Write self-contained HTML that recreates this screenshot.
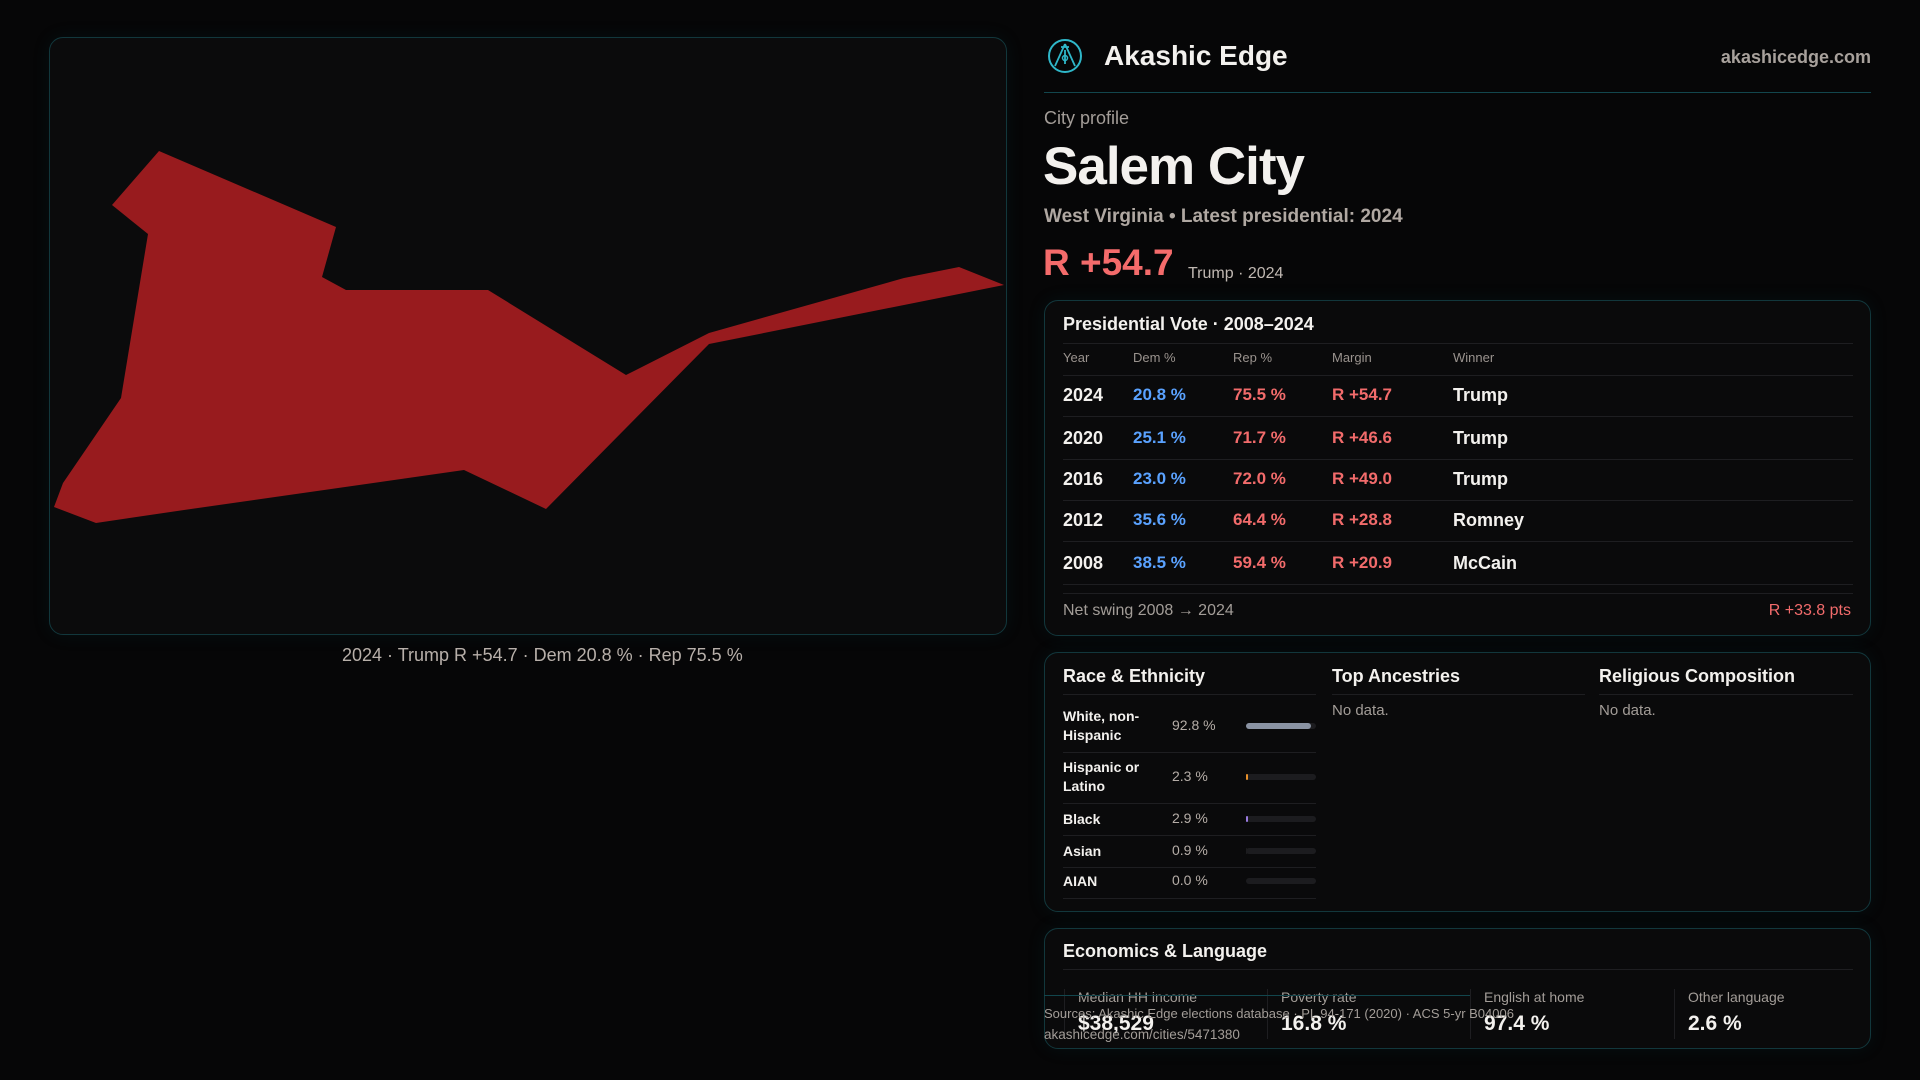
<!DOCTYPE html>
<html><head><meta charset="utf-8"><style>
*{box-sizing:border-box;margin:0;padding:0}
body{width:1920px;height:1080px;background:#060607;color:#f3f1ee;font-family:"Liberation Sans",sans-serif;position:relative;overflow:hidden}
.a{position:absolute;white-space:nowrap}
.panel{position:absolute;border:1px solid #12373c;border-radius:14px;background:#0a0a0b;box-shadow:0 0 18px rgba(20,90,100,0.12)}
.muted{color:#a39d98}
.blue{color:#5aa2ff}.red{color:#f26b6b}
.hr{position:absolute;height:1px;background:#1e1e21}
</style></head><body>
<div class="panel" style="left:49px;top:37px;width:958px;height:598px;background:#0b0b0c"></div>
<svg class="a" style="left:0;top:0" width="1920" height="1080">
<polygon id="shape" fill="#981b1e"/>
</svg>
<div class="a muted" style="left:342px;top:645px;font-size:18px;color:#b8b0aa">2024 · Trump R +54.7 · Dem 20.8 % · Rep 75.5 %</div>

<svg class="a" style="left:1047px;top:38px" width="36" height="36" viewBox="0 0 36 36">
<circle cx="18" cy="18" r="16" fill="none" stroke="#2fb7c9" stroke-width="2"/>
<path d="M18 6 L8 28 M18 6 L28 28 M18 12 V26 M14 9 H22" stroke="#2fb7c9" stroke-width="1.8" fill="none"/>
<circle cx="18" cy="20" r="2.5" fill="none" stroke="#2fb7c9" stroke-width="1.5"/>
</svg>
<div class="a" style="left:1104px;top:40px;font-size:28px;font-weight:bold">Akashic Edge</div>
<div class="a muted" style="right:49px;top:47px;font-size:18px;font-weight:bold;color:#a8a19c">akashicedge.com</div>
<div class="a" style="left:1044px;top:92px;width:827px;height:1px;background:#12464d"></div>
<div class="a muted" style="left:1044px;top:108px;font-size:18px">City profile</div>
<div class="a" style="left:1043px;top:136px;font-size:53px;font-weight:bold;letter-spacing:-1px">Salem City</div>
<div class="a muted" style="left:1044px;top:206px;font-size:19px;font-weight:bold;color:#b0a8a2">West Virginia • Latest presidential: 2024</div>
<div class="a red" style="left:1043px;top:242px;font-size:37px;font-weight:bold;color:#f46b6b">R +54.7</div>
<div class="a muted" style="left:1188px;top:265px;font-size:16px;color:#c0b8b2">Trump · 2024</div>

<div class="panel" style="left:1044px;top:300px;width:827px;height:336px"></div>
<div class="a" style="left:1063px;top:314px;font-size:18px;font-weight:bold">Presidential Vote · 2008–2024</div>
<div class="hr" style="left:1063px;top:343px;width:790px"></div>
<div id="vote"></div>
<div class="hr" style="left:1063px;top:593px;width:790px"></div>
<div class="a muted" style="left:1063px;top:602px;font-size:16px">Net swing 2008 → 2024</div>
<div class="a red" style="right:69px;top:602px;font-size:16px">R +33.8 pts</div>

<div class="panel" style="left:1044px;top:652px;width:827px;height:260px"></div>
<div class="a" style="left:1063px;top:666px;font-size:18px;font-weight:bold">Race &amp; Ethnicity</div>
<div class="hr" style="left:1063px;top:694px;width:253px"></div>
<div class="a" style="left:1332px;top:666px;font-size:18px;font-weight:bold">Top Ancestries</div>
<div class="hr" style="left:1332px;top:694px;width:253px"></div>
<div class="a muted" style="left:1332px;top:702px;font-size:15px">No data.</div>
<div class="a" style="left:1599px;top:666px;font-size:18px;font-weight:bold">Religious Composition</div>
<div class="hr" style="left:1599px;top:694px;width:254px"></div>
<div class="a muted" style="left:1599px;top:702px;font-size:15px">No data.</div>
<div id="race"></div>

<div class="panel" style="left:1044px;top:928px;width:827px;height:121px"></div>
<div class="a" style="left:1063px;top:941px;font-size:18px;font-weight:bold">Economics &amp; Language</div>
<div class="hr" style="left:1063px;top:969px;width:790px"></div>
<div id="econ"></div>
<div class="a" style="left:1044px;top:995px;width:426px;height:1px;background:#12464d"></div>
<div class="a muted" style="left:1044px;top:1006px;font-size:13px">Sources: Akashic Edge elections database · PL 94-171 (2020) · ACS 5-yr B04006</div>
<div class="a muted" style="left:1044px;top:1027px;font-size:13.5px">akashicedge.com/cities/5471380</div>

<script>
const shapeX=[159,336,322,346,488,626,709,904,959,1004,709,546,464,184,96,54,63,121,148,112];
const shapeY=[151,227,277,290,290,375,333,278,267,285,344,509,470,510,523,507,483,398,234,205];
const years=['2024','2020','2016','2012','2008'];
const demPct=[20.8,25.1,23.0,35.6,38.5];
const repPct=[75.5,71.7,72.0,64.4,59.4];
const winners=['Trump','Trump','Trump','Romney','McCain'];
const raceLabels=['White, non-<br>Hispanic','Hispanic or<br>Latino','Black','Asian','AIAN'];
const raceVals=[92.8,2.3,2.9,0.9,0.0];
const raceColors=['#8a93a3','#e8902a','#9a7be0','#1c1c1f','#1c1c1f'];
const econLabels=['Median HH income','Poverty rate','English at home','Other language'];
const econVals=['$38,529','16.8 %','97.4 %','2.6 %'];

document.getElementById('shape').setAttribute('points',shapeX.map((x,i)=>x+','+shapeY[i]).join(' '));

function el(parent,html,style,name){const d=document.createElement('div');d.className='a';d.innerHTML=html;d.style.cssText=style;


parent.appendChild(d);return d;}
const V=document.getElementById('vote');
const hx=[1063,1133,1233,1332,1453],hn=['Year','Dem %','Rep %','Margin','Winner'];
hn.forEach((h,i)=>el(V,h,`left:${hx[i]}px;top:350px;font-size:13px;color:#9a938e`,'column-header'));
const hrline=(p,t,l,w)=>{el(p,'',`left:${l}px;top:${t}px;width:${w}px;height:1px;background:#1e1e21`,'row-divider');};
hrline(V,375,1063,790);
const rowY=[396,439,480,521,564];
years.forEach((y,i)=>{const t=rowY[i]-11;const m=repPct[i]-demPct[i];
el(V,y,`left:1063px;top:${t}px;font-size:18px;font-weight:bold`,'year-cell');
el(V,demPct[i].toFixed(1)+' %',`left:1133px;top:${t}px;font-size:17px;color:#5aa2ff;font-weight:bold`,'dem-cell');
el(V,repPct[i].toFixed(1)+' %',`left:1233px;top:${t}px;font-size:17px;color:#f26b6b;font-weight:bold`,'rep-cell');
el(V,'R +'+m.toFixed(1),`left:1332px;top:${t}px;font-size:17px;color:#f26b6b;font-weight:bold`,'margin-cell');
el(V,winners[i],`left:1453px;top:${t}px;font-size:18px;font-weight:bold`,'winner-cell');
hrline(V,rowY[i]+20,1063,790);});
const R=document.getElementById('race');
const rY=[726,777,819,851,881],sep=[752,803,835,867,898];
raceVals.forEach((v,i)=>{const two=raceLabels[i].includes('<br>');
el(R,raceLabels[i],`left:1063px;top:${rY[i]-(two?19:9)}px;font-size:14px;font-weight:bold;line-height:19px`,'race-label');
el(R,v.toFixed(1)+' %',`left:1172px;top:${rY[i]-9}px;font-size:14px;color:#b5ada7`,'race-value');
el(R,'',`left:1246px;top:${rY[i]-3}px;width:70px;height:6px;border-radius:3px;background:#1c1c1f`,'race-bar-track');
el(R,'',`left:1246px;top:${rY[i]-3}px;width:${v/100*70}px;height:6px;border-radius:3px;background:${raceColors[i]}`,'race-bar');
hrline(R,sep[i],1063,253);});
const E=document.getElementById('econ');
const ex=[1064,1267,1470,1674];
econLabels.forEach((l,i)=>{
el(E,'',`left:${ex[i]}px;top:989px;width:1px;height:50px;background:#1e1e21`,'stat-divider');
el(E,l,`left:${ex[i]+14}px;top:989px;font-size:14px;color:#a39d98`,'stat-label');
el(E,econVals[i],`left:${ex[i]+14}px;top:1012px;font-size:21px;font-weight:bold`,'stat-value');});
</script>
</body></html>
